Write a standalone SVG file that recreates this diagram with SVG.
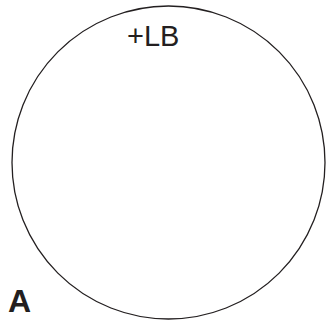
<svg xmlns="http://www.w3.org/2000/svg" width="328" height="323" viewBox="0 0 328 323">
<style>
.lbl{font-family:"Liberation Sans",Arial,sans-serif;fill:#231f20}
</style>
<rect width="328" height="323" fill="#fff"/>
<g id="circle">
<circle cx="168.5" cy="162.5" r="156.5" fill="none" stroke="#231f20" stroke-width="1.3"/>
<text class="lbl" x="127" y="46" font-size="29">+LB</text>
</g>
<g id="label-A">
<text class="lbl" x="8" y="312" font-size="32" font-weight="bold">A</text>
</g>
<g id="connectors"/>
</svg>
